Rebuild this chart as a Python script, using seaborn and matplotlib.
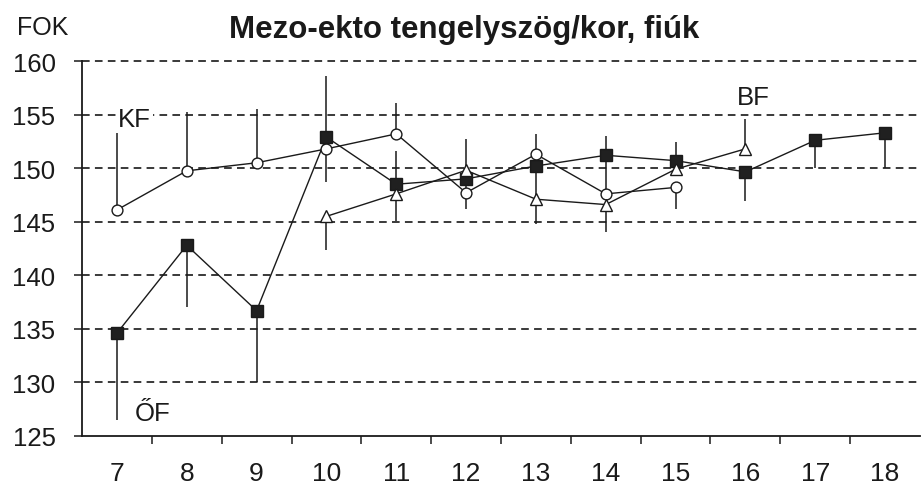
import numpy as np
import pandas as pd
import matplotlib
matplotlib.use("Agg")
import matplotlib.pyplot as plt
import seaborn as sns

# Mean angle (degrees) by age for the three groups, plus the tip of each
# one-sided spread bar (nan = no bar drawn)
ages = list(range(7, 19))
tick_labels = [str(a) for a in ages]
y_ticks = [125, 130, 135, 140, 145, 150, 155, 160]

of_ages = list(range(7, 19))
of_mean = [134.6, 142.8, 136.7, 152.9, 148.5, 149.0, 150.2, 151.2, 150.7, 149.65, 152.6, 153.3]
of_tip = [126.5, 137.0, 130.0, 148.7, 145.1, 146.2, 144.8, np.nan, np.nan, 146.9, 150.0, 150.0]

kf_ages = list(range(7, 16))
kf_mean = [146.1, 149.75, 150.5, 151.8, 153.2, 147.7, 151.3, 147.6, 148.2]
kf_tip = [153.6, 155.2, 155.5, 158.6, 156.1, np.nan, 153.2, 153.0, 146.2]

bf_ages = list(range(10, 17))
bf_mean = [145.5, 147.6, 149.8, 147.1, 146.6, 149.9, 151.8]
bf_tip = [142.4, 151.6, 152.7, np.nan, 144.0, 152.4, 154.6]

sns.set_theme(style="white")
plt.rcParams["font.family"] = ["Liberation Sans", "DejaVu Sans"]
plt.rcParams["lines.scale_dashes"] = False

W, H = 923, 489
fig = plt.figure(figsize=(W / 100, H / 100), dpi=100)
fig.patch.set_facecolor("white")
ax = fig.add_axes([82 / W, 1 - 437 / H, 838 / W, 375 / H])
ax.set_facecolor("white")

ink = "#1a1a1a"

# dashed horizontal gridlines
for yv in y_ticks[1:]:
    ax.axhline(yv, color="#2a2a2a", lw=1.3, ls=(0, (5.5, 3.8)), zorder=1, clip_on=False)

groups = [
    ("ŐF", of_ages, of_mean, of_tip, dict(marker="s", markersize=8.0, markerfacecolor="#202020", markeredgecolor=ink)),
    ("KF", kf_ages, kf_mean, kf_tip, dict(marker="o", markersize=7.8, markerfacecolor="white", markeredgecolor=ink)),
    ("BF", bf_ages, bf_mean, bf_tip, dict(marker="^", markersize=8.4, markerfacecolor="white", markeredgecolor=ink)),
]

for name, xs, ms, tips, mk in groups:
    df = pd.DataFrame({"age": xs, "value": ms, "tip": tips})
    bars = df.dropna(subset=["tip"])
    ax.vlines(bars["age"], bars["value"], bars["tip"], color=ink, lw=1.1, zorder=2)
    sns.lineplot(data=df, x="age", y="value", ax=ax, color=ink, linewidth=1.0,
                 markeredgewidth=1.0, legend=False, zorder=3, **mk)

ax.set_xlim(6.5, 18.5)
ax.set_ylim(125, 160)
ax.set_xlabel("")
ax.set_ylabel("")

ax.set_yticks(y_ticks)
ax.set_yticklabels([str(v) for v in y_ticks])
ax.set_xticks(ages)
ax.set_xticklabels(tick_labels)
ax.set_xticks([a + 0.5 for a in ages[:-1]], minor=True)

ax.tick_params(axis="y", which="major", direction="out", length=6, width=1.1,
               color=ink, labelsize=18.5, pad=13, labelcolor=ink, left=True)
ax.tick_params(axis="x", which="major", length=0, labelsize=19, pad=18, labelcolor=ink)
ax.tick_params(axis="x", which="minor", direction="out", length=6, width=1.1,
               color=ink, bottom=True)

for side in ["top", "right"]:
    ax.spines[side].set_visible(False)
for side in ["left", "bottom"]:
    ax.spines[side].set_color(ink)
    ax.spines[side].set_linewidth(1.3)

# group labels
ax.text(7.02, 153.95, "KF", fontsize=18.5, color=ink, ha="left", va="baseline",
        bbox=dict(facecolor="white", edgecolor="none", pad=1.5), zorder=4)
ax.text(15.88, 156.0, "BF", fontsize=18.5, color=ink, ha="left", va="baseline", zorder=4)
ax.text(7.26, 126.45, "ŐF", fontsize=18.5, color=ink, ha="left", va="baseline", zorder=4)

fig.text(17 / W, 1 - 35 / H, "FOK", fontsize=18, color=ink, ha="left", va="baseline")
fig.text(464 / W, 1 - 38 / H, "Mezo-ekto tengelyszög/kor, fiúk", fontsize=22.5,
         fontweight="bold", color=ink, ha="center", va="baseline")

fig.savefig("out.png", dpi=100, facecolor="white")
